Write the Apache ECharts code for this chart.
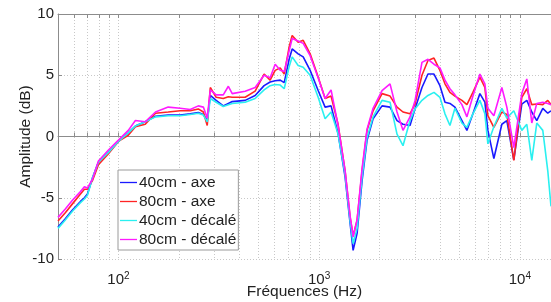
<!DOCTYPE html>
<html>
<head>
<meta charset="utf-8">
<script src="https://cdn.jsdelivr.net/npm/echarts@6/dist/echarts.min.js"></script>
<style>
  html, body { margin: 0; padding: 0; background: #fff; }
  #chart { width: 551px; height: 302px; }
</style>
</head>
<body>
<div id="chart"></div>
<script>
// fréquences (Hz)
const freqs = [50, 54.5, 59, 64.7, 67.7, 70.1, 74.2, 79.5, 89.2, 100, 112, 121.5, 136, 153, 177, 203, 228, 250, 265, 277,
  287, 307, 333, 353, 369, 428, 480, 532, 570, 604, 640, 670, 709, 734, 786, 833, 902, 989, 1071, 1147,
  1243, 1347, 1427, 1477, 1546, 1637, 1733, 1857, 2058, 2256, 2444, 2618, 2837, 3003, 3254, 3486, 3734, 3999, 4237, 4485,
  4750, 5146, 5449, 5838, 6324, 6697, 6932, 7424, 8136, 8615, 9333, 10230, 10835, 11472, 12147, 13014, 13781, 14300];

const axe40 = [-7.4, -6.7, -6.0, -5.3, -5.0, -4.7, -3.4, -2.1, -1.3, -0.4, 0.3, 0.85, 1.2, 1.65, 1.75, 1.75, 1.85, 1.95, 1.8, 1.3,
  3.35, 2.95, 2.5, 2.7, 2.85, 2.95, 3.35, 4.15, 4.45, 4.55, 4.6, 4.4, 6.3, 7.15, 6.75, 6.5, 5.4, 3.75, 2.4, 2.5,
  0.25, -3.3, -7.1, -9.3, -7.9, -3.6, -0.3, 1.45, 2.5, 2.4, 1.3, 1.0, 0.9, 2.25, 4.0, 5.1, 5.1, 4.15, 2.8, 2.7,
  2.4, 1.3, 0.5, 1.85, 3.5, 2.8, 0.5, -1.8, 1.0, 1.3, -1.9, 2.65, 2.95, 2.0, 1.3, 2.3, 1.9, 2.1];

const axe80 = [-6.9, -6.2, -5.5, -4.7, -4.3, -4.3, -3.6, -2.3, -1.4, -0.4, 0.1, 0.8, 1.0, 1.9, 2.0, 2.1, 2.1, 2.25, 2.0, 0.9,
  4.0, 3.2, 3.1, 3.25, 3.2, 3.2, 3.7, 5.1, 4.6, 5.4, 5.6, 5.1, 7.3, 8.25, 7.7, 7.85, 6.75, 4.85, 3.1, 3.3,
  1.0, -2.8, -6.6, -8.1, -6.85, -2.8, 0.5, 2.1, 3.5, 3.3, 2.4, 2.0, 1.85, 2.65, 5.0, 6.2, 6.4, 5.4, 4.3, 3.6,
  3.3, 2.95, 2.6, 3.6, 4.85, 4.0, 1.7, 0.75, 2.0, 1.8, -1.95, 3.2, 3.9, 2.6, 2.65, 2.6, 2.95, 2.6];

const decale40 = [-7.5, -6.8, -6.1, -5.4, -5.1, -4.8, -3.4, -2.1, -1.3, -0.4, 0.3, 0.85, 1.2, 1.6, 1.7, 1.7, 1.8, 1.9, 1.75, 1.2,
  3.1, 2.8, 2.45, 2.6, 2.7, 2.8, 3.1, 3.8, 4.15, 4.25, 4.2, 3.9, 5.7, 6.5, 5.8, 5.65, 5.0, 3.2, 1.45, 2.0,
  0.2, -3.1, -6.9, -8.75, -7.5, -3.3, -0.1, 1.6, 2.95, 2.8, 0.2, -0.75, 1.3, 2.25, 2.95, 3.35, 3.6, 3.2, 1.85, 0.9,
  2.3, 1.1, 0.75, 1.85, 2.95, 1.85, -0.6, 0.8, 2.3, 1.5, 2.1, 0.5, 1.0, -1.95, 1.1, 0.5, -2.8, -5.7];

const decale80 = [-6.6, -5.9, -5.2, -4.5, -4.1, -4.2, -3.5, -2.0, -1.1, -0.3, 0.5, 1.3, 1.2, 2.0, 2.4, 2.3, 2.2, 2.5, 2.4, 1.5,
  3.8, 3.4, 3.4, 4.1, 3.5, 3.7, 4.0, 5.0, 4.8, 5.9, 5.4, 5.3, 7.0, 8.0, 7.8, 7.6, 6.6, 4.8, 3.1, 3.8,
  0.9, -2.8, -6.5, -8.2, -6.8, -2.6, 0.6, 2.3, 3.75, 4.3, 2.0, 0.5, 1.6, 2.9, 6.05, 6.3, 5.9, 5.6, 4.6, 3.9,
  3.4, 2.6, 1.6, 3.3, 5.1, 4.3, 2.3, 1.7, 4.0, 2.4, -0.9, 3.5, 4.7, 1.1, 2.7, 2.8, 2.7, 2.6];

const seriesNames = ['40cm - axe', '80cm - axe', '40cm - décalé', '80cm - décalé'];
const seriesColors = ['#1a1aff', '#ff2424', '#2af0f0', '#ff1aff'];
const seriesData = [axe40, axe80, decale40, decale80];

const yTicks = [-10, -5, 0, 5, 10];
const decades = [100, 1000, 10000];

// graduations log : 1..9 x chaque décade
let logTicks = [];
[10, 100, 1000, 10000].forEach(function (d) {
  for (let k = 1; k <= 9; k++) {
    const v = d * k;
    if (v >= 50 && v <= 14300) logTicks.push(v);
  }
});

const chart = echarts.init(document.getElementById('chart'));
const font = 'Liberation Sans, Arial, sans-serif';
const gridLine = { show: true, lineStyle: { color: '#c8c8c8', type: [1, 2], width: 1 } };

const option = {
  animation: false,
  textStyle: { fontFamily: font },
  grid: { left: 58, top: 14, right: 0, bottom: 43, outerBoundsMode: 'none' },
  legend: {
    orient: 'vertical',
    left: 118, top: 170,
    backgroundColor: '#fff',
    borderColor: '#9a9a9a',
    borderWidth: 1,
    borderRadius: 0,
    padding: [3, 2, 1, 2],
    icon: 'rect',
    itemWidth: 17, itemHeight: 1.3,
    itemGap: 0,
    textStyle: { fontSize: 15.5, lineHeight: 19, color: '#222', fontFamily: font, padding: [0, 0, 0, -3] },
    data: seriesNames
  },
  xAxis: [{
    type: 'log',
    logBase: 10,
    min: 50, max: 14300,
    name: 'Fréquences (Hz)',
    nameLocation: 'middle',
    nameGap: 25,
    nameMoveOverlap: false,
    nameTextStyle: { fontSize: 15.5, color: '#222' },
    axisLine: { show: true, lineStyle: { color: '#8c8c8c' } },
    axisTick: { show: true, inside: true, length: 4, customValues: logTicks, lineStyle: { color: '#8c8c8c' } },
    splitLine: gridLine,
    axisLabel: {
      customValues: decades,
      margin: 12,
      formatter: function (v) {
        return '{b|10}{s|' + Math.round(Math.log10(v)) + '}';
      },
      rich: {
        b: { fontSize: 15, color: '#222', fontFamily: font, lineHeight: 18 },
        s: { fontSize: 10, color: '#222', fontFamily: font, verticalAlign: 'top', lineHeight: 10 }
      }
    }
  }, {
    type: 'log',
    logBase: 10,
    min: 50, max: 14300,
    position: 'top',
    axisLine: { show: true, lineStyle: { color: '#8c8c8c' } },
    axisTick: { show: true, inside: true, length: 4, customValues: logTicks, lineStyle: { color: '#8c8c8c' } },
    axisLabel: { show: false },
    splitLine: { show: false }
  }],
  yAxis: {
    type: 'value',
    min: -10, max: 10, interval: 5,
    name: 'Amplitude (dB)',
    nameLocation: 'middle',
    nameGap: 24,
    nameMoveOverlap: false,
    nameTextStyle: { fontSize: 15.5, color: '#222' },
    axisLine: { show: true, lineStyle: { color: '#8c8c8c' } },
    axisTick: { show: true, inside: true, length: 4, lineStyle: { color: '#8c8c8c' } },
    splitLine: gridLine,
    axisLabel: { fontSize: 15, color: '#222', margin: 4, customValues: yTicks }
  },
  series: seriesNames.map(function (name, i) {
    return {
      name: name,
      type: 'line',
      xAxisIndex: 0,
      data: freqs.map(function (f, j) { return [f, seriesData[i][j]]; }),
      symbol: 'none',
      showSymbol: false,
      clip: true,
      lineStyle: { color: seriesColors[i], width: 1.6 },
      itemStyle: { color: seriesColors[i] }
    };
  })
};

chart.setOption(option);
</script>
</body>
</html>
